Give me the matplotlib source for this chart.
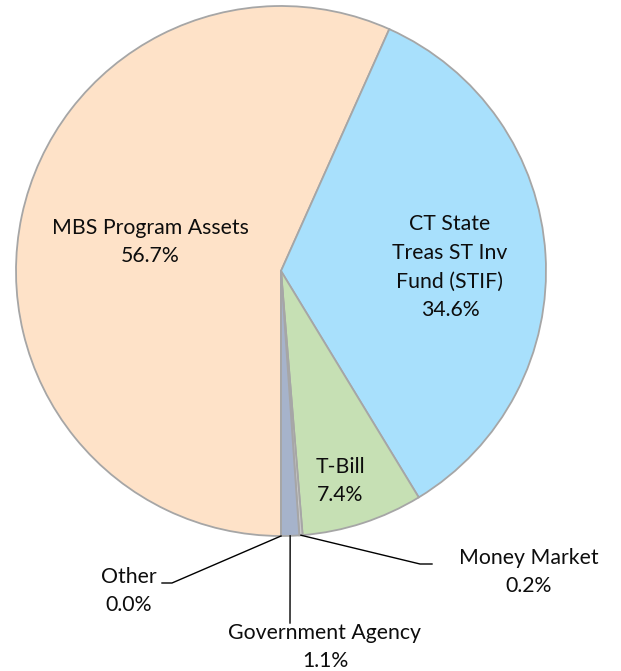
import numpy as np
import matplotlib
matplotlib.use("Agg")
import matplotlib.pyplot as plt

# ---------------------------------------------------------------------------
# data
# ---------------------------------------------------------------------------
labels = ["MBS Program Assets", "CT State\nTreas ST Inv\nFund (STIF)", "T-Bill",
          "Money Market", "Government Agency", "Other"]
shares = [56.7, 34.6, 7.4, 0.2, 1.1, 0.0]
colors = ["#FEE2C8", "#A8E0FC", "#C6E0B4", "#C9C9C9", "#A6B3CB", "#E7C3A6"]

# label anchor points in pixel space (x, y from top), and whether a leader line is used
label_pos = [(150, 242), (450, 267), (340, 481), (529, 572), (325, 647), (129, 591)]
leader_end = [None, None, None, (432, 564), (290, 623), (162, 583)]
leader_knee = [None, None, None, (420, 564), None, (172, 583)]

W, H = 621, 671
cx, cy, r = 281, 271, 265

plt.rcParams['font.family'] = ['Lato', 'DejaVu Sans']

fig = plt.figure(figsize=(W / 100, H / 100), dpi=100)
ax = fig.add_axes([0, 0, 1, 1])

ax.pie(shares, colors=colors, startangle=-90, counterclock=False,
       center=(cx, H - cy), radius=r,
       wedgeprops=dict(edgecolor="#A6A6A6", linewidth=1.3))

ax.set_xlim(0, W)
ax.set_ylim(0, H)
ax.set_aspect('equal')
ax.axis('off')

total = sum(shares)
cum = 0.0
for i, (lab, v) in enumerate(zip(labels, shares)):
    mid = np.deg2rad(-90 - 360 * (cum + v / 2) / total)
    cum += v
    lx, ly = label_pos[i]
    txt = f"{lab}\n{v:.1f}%"
    ax.text(lx, H - ly, txt, ha='center', va='center', fontsize=15.3,
            color='#0d0d0d', linespacing=1.55)
    if leader_end[i] is not None:
        sx = cx + r * np.cos(mid)
        sy = (H - cy) + r * np.sin(mid)
        pts = [(sx, sy)]
        if leader_knee[i] is not None:
            kx, ky = leader_knee[i]
            pts.append((kx, H - ky))
        ex, ey = leader_end[i]
        pts.append((ex, H - ey))
        xs, ys = zip(*pts)
        ax.plot(xs, ys, color='black', linewidth=1.0)

fig.savefig("out.png", dpi=100)
